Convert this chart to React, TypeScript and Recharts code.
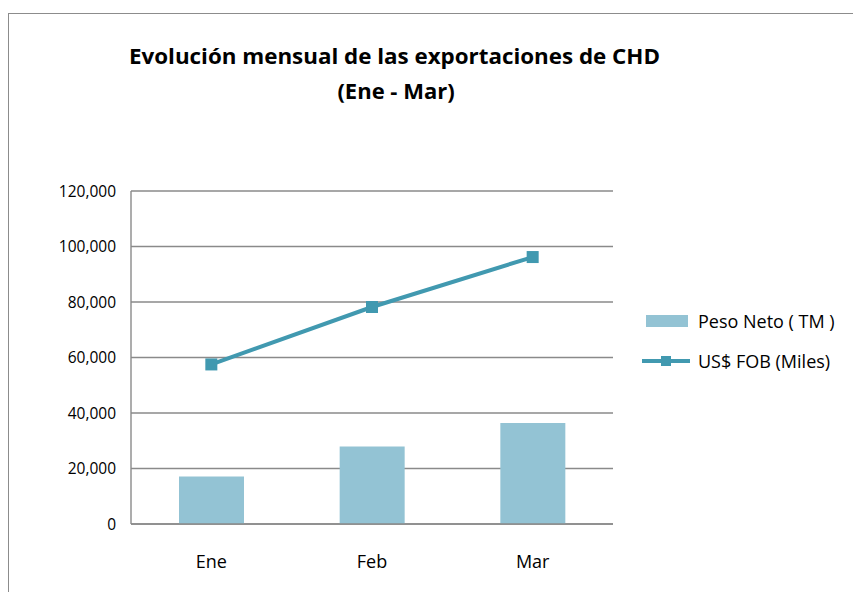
import React from 'react';
import { ComposedChart, Bar, Line, XAxis, YAxis, CartesianGrid, Legend } from 'recharts';

const months = ['Ene', 'Feb', 'Mar'];
const pesoNeto = [17100, 27900, 36400];
const fobMiles = [57500, 78200, 96200];
const yTicks = [0, 20000, 40000, 60000, 80000, 100000, 120000];
const seriesNames = ['Peso Neto ( TM )', 'US$ FOB (Miles)'];
const titleLines = ['Evolución mensual de las exportaciones de CHD', '(Ene - Mar)'];

const data = months.map((m, i) => ({ month: m, peso: pesoNeto[i], fob: fobMiles[i] }));

const BAR_COLOR = '#93C3D4';
const LINE_COLOR = '#4199B0';
const GRID = '#8a8a8a';
const FONT = '"Open Sans", sans-serif';

const fmt = (v: number) => v.toLocaleString('en-US');

const SquareDot = (props: any) => {
  const { cx, cy } = props;
  if (cx == null || cy == null) return null;
  return <rect x={cx - 6} y={cy - 6} width={12} height={12} fill={LINE_COLOR} />;
};

const LegendContent = (props: any) => {
  const { payload } = props;
  const items = payload || [];
  return (
    <div style={{ fontFamily: FONT, fontSize: 18, color: '#000' }}>
      {items.map((it: any, i: number) => (
        <div key={i} style={{ display: 'flex', alignItems: 'center', height: 40 }}>
          <svg width={50} height={20} style={{ marginRight: 6 }}>
            {it.type === 'rect' ? (
              <rect x={4} y={4} width={42} height={12} fill={BAR_COLOR} />
            ) : (
              <g>
                <line x1={0} y1={10} x2={48} y2={10} stroke={LINE_COLOR} strokeWidth={4} />
                <rect x={19} y={5} width={10} height={10} fill={LINE_COLOR} />
              </g>
            )}
          </svg>
          <span>{it.value}</span>
        </div>
      ))}
    </div>
  );
};

export default function App() {
  return (
    <div style={{ position: 'absolute', left: 0, top: 0, width: 853, height: 592, overflow: 'hidden', background: '#fff' }}>
      <div
        style={{
          position: 'absolute',
          left: 8,
          top: 13,
          width: 900,
          height: 700,
          borderLeft: '1.5px solid #8c8c8c',
          borderTop: '1.5px solid #8c8c8c',
        }}
      />
      <svg style={{ position: 'absolute', left: 0, top: 0 }} width={853} height={120}>
        <text
          x={129}
          y={64}
          textLength={531}
          lengthAdjust="spacingAndGlyphs"
          style={{ fontFamily: FONT, fontWeight: 700, fontSize: 22 }}
          fill="#000"
        >
          {titleLines[0]}
        </text>
        <text
          x={396}
          y={99}
          textAnchor="middle"
          style={{ fontFamily: FONT, fontWeight: 700, fontSize: 22 }}
          fill="#000"
        >
          {titleLines[1]}
        </text>
      </svg>
      <div style={{ position: 'absolute', left: 0, top: 0 }}>
        <ComposedChart
          width={853}
          height={592}
          data={data}
          margin={{ top: 191, right: 240, bottom: 28, left: 0 }}
        >
          <CartesianGrid vertical={false} stroke={GRID} strokeWidth={1.4} />
          <XAxis
            dataKey="month"
            height={40}
            tickLine={false}
            tickSize={0}
            tickMargin={31}
            axisLine={{ stroke: GRID, strokeWidth: 1.4 }}
            tick={{ fill: '#000', fontSize: 18, fontFamily: FONT }}
          />
          <YAxis
            width={131}
            domain={[0, 120000]}
            ticks={yTicks}
            interval={0}
            tickFormatter={fmt}
            tickLine={false}
            tickSize={0}
            tickMargin={15}
            axisLine={{ stroke: GRID, strokeWidth: 1.4 }}
            tick={{ fill: '#000', fontSize: 15.5, fontFamily: FONT }}
          />
          <Legend
            layout="horizontal"
            verticalAlign="middle"
            align="center"
            content={<LegendContent />}
            wrapperStyle={{ left: 642, top: 301, width: 210 }}
          />
          <Bar
            dataKey="peso"
            name={seriesNames[0]}
            fill={BAR_COLOR}
            barSize={65}
            legendType="rect"
            isAnimationActive={false}
          />
          <Line
            dataKey="fob"
            name={seriesNames[1]}
            stroke={LINE_COLOR}
            strokeWidth={4}
            dot={<SquareDot />}
            activeDot={false}
            legendType="line"
            isAnimationActive={false}
          />
        </ComposedChart>
      </div>
    </div>
  );
}
